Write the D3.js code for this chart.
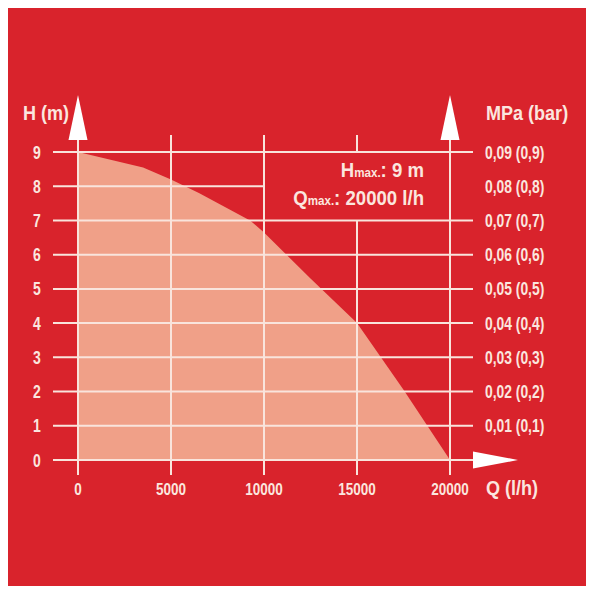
<!DOCTYPE html>
<html>
<head>
  <meta charset="utf-8" />
  <script src="https://d3js.org/d3.v7.min.js"></script>
  <style>
    body, html { margin: 0; padding: 0; background: #fff; }
    svg text {
      font-family: "Liberation Sans", Arial, sans-serif;
      font-weight: bold;
      fill: #fbe6df;
    }
  </style>
</head>
<body>
  <svg id="chart" width="595" height="595"></svg>
  <script>
// curve
var flow = [0, 3500, 5000, 6500, 9250, 10000, 12500, 15000, 17500, 20000];
var head = [9, 8.55, 8.2, 7.8, 7.0, 6.65, 5.3, 4.0, 2.05, 0];

var xTicks = [0, 5000, 10000, 15000, 20000];
var yTicks = [0, 1, 2, 3, 4, 5, 6, 7, 8, 9];
var pressureLabels = ["", "0,01 (0,1)", "0,02 (0,2)", "0,03 (0,3)", "0,04 (0,4)", "0,05 (0,5)",
                      "0,06 (0,6)", "0,07 (0,7)", "0,08 (0,8)", "0,09 (0,9)"];

var red = "#d9232c", fillCol = "#f0a088", lineCol = "#f9e4dc";

var svg = d3.select("#chart");
svg.append("rect").attr("x", 8).attr("y", 8).attr("width", 578).attr("height", 578).attr("fill", red);

var x = d3.scaleLinear().domain([0, 20000]).range([78, 450]);
var y = d3.scaleLinear().domain([0, 9]).range([460, 152]);

// filled pump curve
var area = d3.area()
  .x(function(d, i) { return x(flow[i]); })
  .y0(y(0))
  .y1(function(d) { return y(d); });
svg.append("path").datum(head).attr("d", area).attr("fill", fillCol);

var grid = svg.append("g").attr("stroke", lineCol).attr("stroke-width", 2);

// horizontal grid lines (the 8 m line stops at the info box)
yTicks.forEach(function(v) {
  grid.append("line")
    .attr("x1", 53).attr("x2", v == 8 ? x(10000) : 473)
    .attr("y1", y(v)).attr("y2", y(v));
});

// vertical grid lines
xTicks.forEach(function(v) {
  var top = (v == 0 || v == 20000) ? 139 : 135;
  if (v == 15000) {
    grid.append("line").attr("x1", x(v)).attr("x2", x(v)).attr("y1", top).attr("y2", y(9));
    grid.append("line").attr("x1", x(v)).attr("x2", x(v)).attr("y1", y(7)).attr("y2", 475);
  } else {
    grid.append("line").attr("x1", x(v)).attr("x2", x(v)).attr("y1", top).attr("y2", 475);
  }
});

// arrow heads
function tri(pts) {
  svg.append("path").attr("d", "M" + pts.join("L") + "Z").attr("fill", "#fff");
}
tri([[x(0), 95], [x(0) - 9.5, 140], [x(0) + 9.5, 140]]);
tri([[x(20000), 95], [x(20000) - 9.5, 140], [x(20000) + 9.5, 140]]);
tri([[518, y(0)], [473, y(0) - 8.5], [473, y(0) + 8.5]]);

// condensed text: squeeze horizontally around the anchor point
function label(px, py, txt, size, sx, anchor) {
  return svg.append("text")
    .attr("transform", "translate(" + px + "," + py + ") scale(" + sx + ",1)")
    .attr("text-anchor", anchor || "start")
    .attr("font-size", size)
    .text(txt);
}

// left tick labels
yTicks.forEach(function(d) { label(37, y(d) + 6.5, d, 17.5, 0.8, "middle"); });

// right tick labels
yTicks.filter(function(d) { return d > 0; }).forEach(function(d) {
  label(485, y(d) + 6.5, pressureLabels[d], 18, 0.77);
});

// bottom tick labels
xTicks.forEach(function(d) { label(x(d), 495, d, 16.5, 0.82, "middle"); });

// axis titles
label(23, 120, "H (m)", 20.5, 0.88);
label(486, 120, "MPa (bar)", 20.5, 0.88);
label(486, 495, "Q (l/h)", 20.5, 0.88);

// info box
function info(py, big, rest) {
  var t = label(424, py, "", 20, 0.93, "end");
  t.append("tspan").text(big);
  t.append("tspan").attr("font-size", 12.5).text("max.");
  t.append("tspan").text(rest);
}
info(177, "H", ": 9 m");
info(205, "Q", ": 20000 l/h");
  </script>
</body>
</html>
